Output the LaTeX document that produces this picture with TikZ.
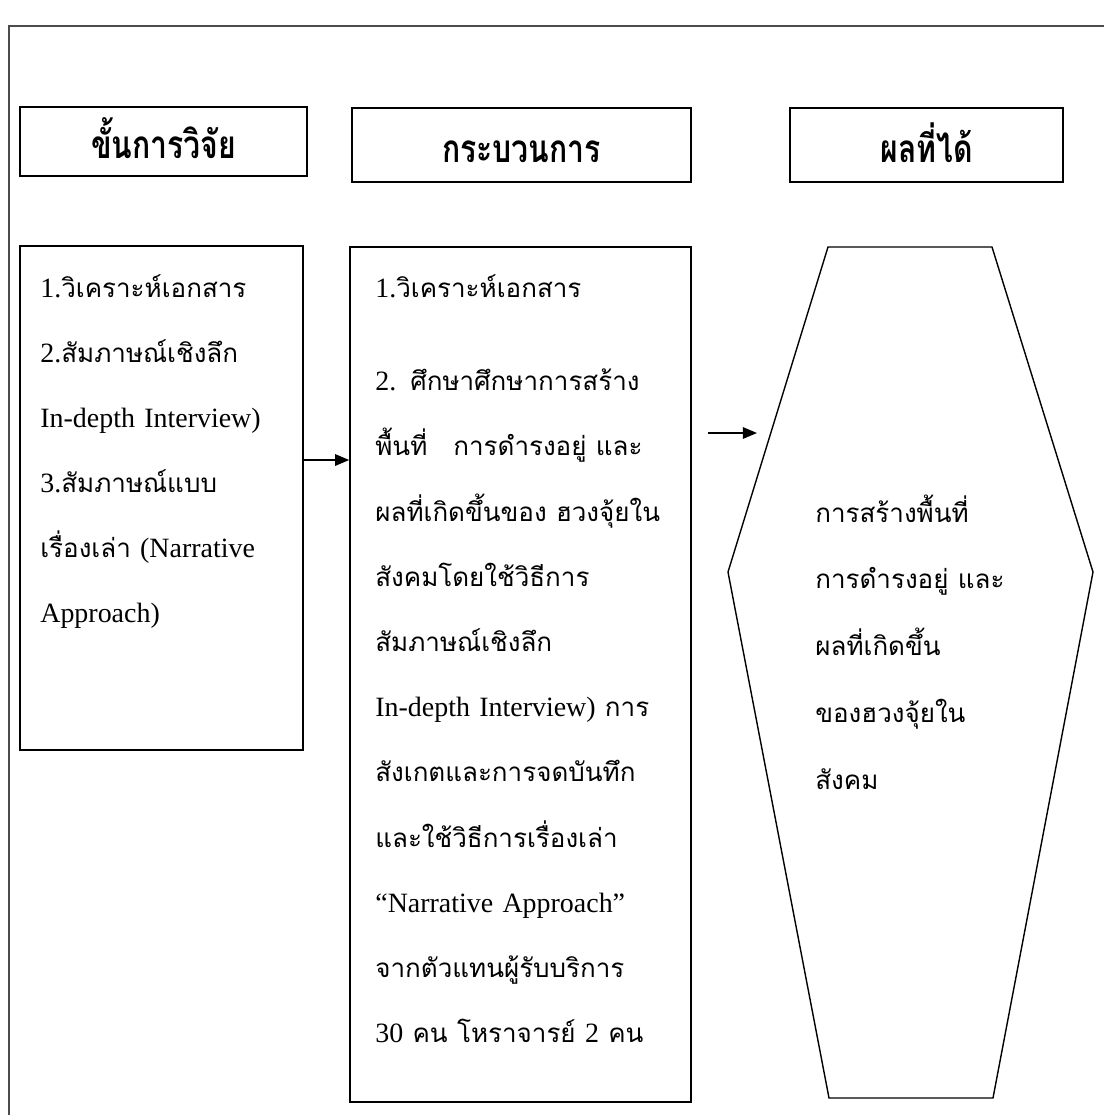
\documentclass[tikz,border=0pt]{standalone}
\usepackage{fontspec}
\setmainfont{Liberation Serif}
\newfontfamily\thaifont[Script=Thai,Scale=0.93]{Loma}
\newfontfamily\thaihead[Script=Thai,FakeStretch=0.78]{Loma}
\newcommand{\thaitext}[1]{{\thaifont #1}}
\usetikzlibrary{arrows.meta}

\begin{document}
\begin{tikzpicture}[
  frame/.style   = {draw=black!70, line width=0.6pt},
  stage/.style   = {draw, line width=1.2pt, inner sep=0pt,
                    text height=0.78cm, text depth=0.1cm,
                    font={\thaihead\bfseries\fontsize{22}{26}\selectfont}},
  panel/.style   = {draw, line width=0.9pt, inner sep=0pt},
  hexa/.style    = {draw, line width=0.8pt},
  body/.style    = {anchor=base west, inner sep=0pt, align=left,
                    font={\fontsize{15.9}{37.1}\selectfont}},
  flow/.style    = {line width=0.9pt, -{Triangle[length=8pt,width=6.5pt]}},
]
  \useasboundingbox (0,0) rectangle (22.08,-22.30);

  % open frame round the whole figure
  \draw[frame] (22.08,-0.52) -- (0.18,-0.52) -- (0.18,-22.30);

  \node[stage, minimum width=5.74cm, minimum height=1.38cm] (hdrSteps)   at (3.27,-2.83)  {ขั้นการวิจัย};
  \node[stage, minimum width=6.78cm, minimum height=1.48cm] (hdrProcess) at (10.43,-2.90) {กระบวนการ};
  \node[stage, minimum width=5.46cm, minimum height=1.48cm] (hdrResult)  at (18.53,-2.90) {ผลที่ได้};

  \node[panel, minimum width=5.66cm, minimum height=10.08cm] (boxSteps)   at (3.23,-9.96)  {};
  \node[panel, minimum width=6.82cm, minimum height=17.10cm] (boxProcess) at (10.41,-13.49) {};

  \coordinate (hexTL) at (16.56,-4.94);
  \coordinate (hexTR) at (19.84,-4.94);
  \coordinate (hexR)  at (21.86,-11.44);
  \coordinate (hexBR) at (19.86,-21.96);
  \coordinate (hexBL) at (16.58,-21.96);
  \coordinate (hexL)  at (14.56,-11.44);
  \draw[hexa] (hexTL) -- (hexTR) -- (hexR) -- (hexBR) -- (hexBL) -- (hexL) -- cycle;

  \node[body, text width=5.0cm] (txtSteps) at (0.80,-5.94) {%
    1.\thaitext{วิเคราะห์เอกสาร}\\
    2.\thaitext{สัมภาษณ์เชิงลึก}\\
    In-depth Interview)\\
    3.\thaitext{สัมภาษณ์แบบ}\\
    \thaitext{เรื่องเล่า} (Narrative\\
    Approach)};

  \node[body, text width=6.2cm] (txtProcess) at (7.50,-5.94) {%
    1.\thaitext{วิเคราะห์เอกสาร}\\[0.57cm]
    2. \thaitext{ศึกษาศึกษาการสร้าง}\\
    \thaitext{พื้นที่\quad การดำรงอยู่ และ}\\
    \thaitext{ผลที่เกิดขึ้นของ ฮวงจุ้ยใน}\\
    \thaitext{สังคมโดยใช้วิธีการ}\\
    \thaitext{สัมภาษณ์เชิงลึก}\\
    In-depth Interview) \thaitext{การ}\\
    \thaitext{สังเกตและการจดบันทึก}\\
    \thaitext{และใช้วิธีการเรื่องเล่า}\\
    “Narrative Approach”\\
    \thaitext{จากตัวแทนผู้รับบริการ}\\
    30 \thaitext{คน โหราจารย์} 2 \thaitext{คน}};

  \node[body, text width=5.0cm, font={\fontsize{15.9}{38.1}\selectfont}] (txtResult) at (16.30,-10.44) {%
    \thaitext{การสร้างพื้นที่}\\
    \thaitext{การดำรงอยู่ และ}\\
    \thaitext{ผลที่เกิดขึ้น}\\
    \thaitext{ของฮวงจุ้ยใน}\\
    \thaitext{สังคม}};

  \coordinate (arrowY) at (0,-9.20);
  \draw[flow] (boxSteps.east |- arrowY) -- (boxProcess.west |- arrowY);

  \coordinate (outStart) at (14.16,-8.66);
  \coordinate (outEnd)   at (15.14,-8.66);
  \draw[flow] (outStart) -- (outEnd);
\end{tikzpicture}
\end{document}
